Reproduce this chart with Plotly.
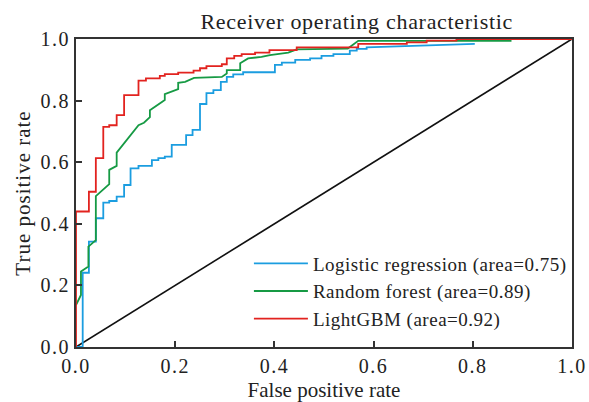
import plotly.graph_objects as go

# ---- data ----
lr_fpr = [0, 0.0135, 0.0135, 0.026, 0.026, 0.040, 0.040, 0.055, 0.055, 0.067, 0.067, 0.082, 0.082, 0.097, 0.097,
          0.110, 0.110, 0.126, 0.126, 0.153, 0.153, 0.166, 0.166, 0.179, 0.179, 0.193, 0.193, 0.222, 0.222,
          0.235, 0.235, 0.250, 0.250, 0.263, 0.263, 0.277, 0.277, 0.292, 0.292, 0.304, 0.304, 0.317, 0.317,
          0.337, 0.337, 0.401, 0.401, 0.415, 0.415, 0.442, 0.442, 0.472, 0.472, 0.495, 0.495, 0.519, 0.519,
          0.552, 0.552, 0.566, 0.566, 0.586, 0.586, 0.804]
lr_tpr = [0, 0, 0.241, 0.241, 0.342, 0.342, 0.418, 0.418, 0.469, 0.469, 0.474, 0.474, 0.488, 0.488, 0.526,
          0.526, 0.580, 0.580, 0.588, 0.588, 0.607, 0.607, 0.613, 0.613, 0.618, 0.618, 0.656, 0.656, 0.688,
          0.688, 0.705, 0.705, 0.789, 0.789, 0.824, 0.824, 0.834, 0.834, 0.861, 0.861, 0.877, 0.877, 0.885,
          0.885, 0.892, 0.892, 0.916, 0.916, 0.923, 0.923, 0.932, 0.932, 0.937, 0.937, 0.945, 0.945, 0.951,
          0.951, 0.962, 0.962, 0.968, 0.968, 0.973, 0.984]

rf_fpr = [0, 0.010, 0.010, 0.015, 0.025, 0.025, 0.040, 0.040, 0.067, 0.067, 0.082, 0.082, 0.122, 0.126,
          0.137, 0.149, 0.149, 0.179, 0.179, 0.206, 0.206, 0.220, 0.238, 0.294, 0.304, 0.304, 0.331, 0.331,
          0.347, 0.374, 0.391, 0.428, 0.445, 0.548, 0.569, 0.878]
rf_tpr = [0.136, 0.169, 0.245, 0.250, 0.261, 0.326, 0.347, 0.490, 0.529, 0.575, 0.588, 0.631, 0.715, 0.720,
          0.728, 0.746, 0.769, 0.802, 0.821, 0.837, 0.858, 0.861, 0.874, 0.877, 0.888, 0.899, 0.899, 0.921,
          0.937, 0.942, 0.948, 0.956, 0.966, 0.969, 0.994, 0.994]

gbm_fpr = [0, 0, 0.026, 0.026, 0.040, 0.040, 0.055, 0.055, 0.067, 0.067, 0.082, 0.082, 0.097, 0.097, 0.126,
           0.126, 0.141, 0.141, 0.169, 0.169, 0.179, 0.179, 0.206, 0.206, 0.237, 0.237, 0.250, 0.250, 0.263,
           0.263, 0.294, 0.294, 0.304, 0.304, 0.319, 0.319, 0.334, 0.334, 0.361, 0.361, 0.390, 0.390, 0.445,
           0.445, 0.569, 0.569, 0.667, 0.667, 0.707, 0.707, 0.767, 0.767, 1.0]
gbm_tpr = [0, 0.440, 0.440, 0.504, 0.504, 0.613, 0.613, 0.715, 0.715, 0.720, 0.720, 0.753, 0.753, 0.818, 0.818,
           0.865, 0.865, 0.872, 0.872, 0.880, 0.880, 0.886, 0.886, 0.891, 0.891, 0.897, 0.897, 0.905, 0.905,
           0.912, 0.912, 0.918, 0.918, 0.937, 0.937, 0.945, 0.945, 0.951, 0.951, 0.956, 0.956, 0.964, 0.964,
           0.973, 0.973, 0.984, 0.984, 0.989, 0.989, 0.995, 0.995, 1.0, 1.0]

chance = [0, 1]

series_names = ["Logistic regression (area=0.75)", "Random forest (area=0.89)", "LightGBM (area=0.92)"]
series_colors = ["#1b9de0", "#169a44", "#e2231f"]
tick_vals = [0, 0.2, 0.4, 0.6, 0.8, 1.0]
tick_text = ["0.0", "0.2", "0.4", "0.6", "0.8", "1.0"]

FONT = "Liberation Serif, Times New Roman, serif"
INK = "#222222"

fig = go.Figure()
fig.add_trace(go.Scatter(x=chance, y=chance, mode="lines", line=dict(color="#111111", width=1.6),
                         showlegend=False, hoverinfo="skip"))
for (xs, ys), name, col in zip([(lr_fpr, lr_tpr), (rf_fpr, rf_tpr), (gbm_fpr, gbm_tpr)], series_names, series_colors):
    fig.add_trace(go.Scatter(x=xs, y=ys, mode="lines", name=name,
                             line=dict(color=col, width=1.8)))

axis_common = dict(range=[0, 1], tickvals=tick_vals, ticktext=tick_text, ticks="inside", ticklen=6,
                   tickwidth=1.5, tickcolor="#333333", showline=True, linecolor="#333333", linewidth=1.8,
                   mirror=True, showgrid=False, zeroline=False, automargin=False,
                   tickfont=dict(family=FONT, size=20, color=INK))

fig.update_layout(
    width=589, height=402,
    margin=dict(l=76, r=17, t=39, b=55),
    paper_bgcolor="white", plot_bgcolor="white",
    font=dict(family=FONT, size=20, color=INK),
    title=dict(text="Receiver operating characteristic", x=0.566, xref="paper", xanchor="center",
               y=1 - 21 / 402, yref="container", yanchor="middle",
               font=dict(family=FONT, size=22, color=INK)),
    xaxis=dict(axis_common, title=dict(text="False positive rate", standoff=9,
                                       font=dict(family=FONT, size=21, color=INK))),
    yaxis=dict(axis_common, title=dict(text="True positive rate", standoff=9,
                                       font=dict(family=FONT, size=21, color=INK))),
    legend=dict(x=0.397, y=0.333, xanchor="left", yanchor="top", bgcolor="rgba(0,0,0,0)",
                font=dict(family=FONT, size=19, color=INK)),
)

post = """
var gd = document.getElementById('{plot_id}');
function restyleText() {
  document.body.style.margin = '0';
  document.querySelectorAll('.xtick text, .ytick text').forEach(function(t){ t.style.letterSpacing = '1.5px'; });
  document.querySelectorAll('.gtitle').forEach(function(t){ t.style.letterSpacing = '0.7px'; });
  document.querySelectorAll('.ytitle').forEach(function(t){ t.style.letterSpacing = '1px'; });
  document.querySelectorAll('.legend [clip-path]').forEach(function(e){ e.removeAttribute('clip-path'); });
  document.querySelectorAll('.legendtext').forEach(function(t){ t.style.letterSpacing = '0.5px'; });
  document.querySelectorAll('.legendlines path').forEach(function(p){ p.setAttribute('d', 'M-19,0h54'); });
}
restyleText();
if (gd && gd.on) { gd.on('plotly_afterplot', restyleText); }
setTimeout(restyleText, 0);
setTimeout(restyleText, 100);
"""

fig.write_html("out.html", post_script=post, config={"displayModeBar": False})
